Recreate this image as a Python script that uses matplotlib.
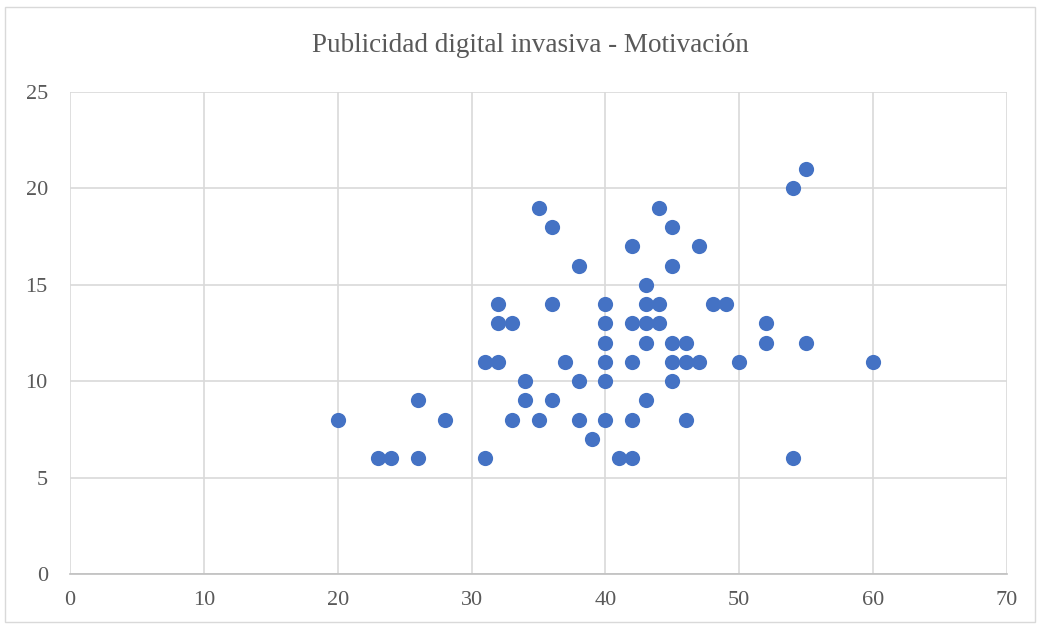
import matplotlib
matplotlib.use("Agg")
import matplotlib.pyplot as plt
from matplotlib.patches import Rectangle

# Publicidad digital invasiva (x) vs Motivación (y)
publicidad = [20, 23, 24, 26, 26, 28, 31, 31, 32, 32, 32, 33, 33, 34, 34,
              35, 35, 36, 36, 36, 37, 38, 38, 38, 39,
              40, 40, 40, 40, 40, 40, 41, 42, 42, 42, 42, 42,
              43, 43, 43, 43, 43, 44, 44, 44, 45, 45, 45, 45, 45,
              46, 46, 46, 47, 47, 48, 49, 50, 52, 52, 54, 54, 55, 55, 60]
motivacion = [8, 6, 6, 9, 6, 8, 11, 6, 14, 13, 11, 13, 8, 10, 9,
              19, 8, 18, 14, 9, 11, 16, 10, 8, 7,
              14, 13, 12, 11, 10, 8, 6, 17, 13, 11, 8, 6,
              15, 14, 13, 12, 9, 19, 14, 13, 18, 16, 12, 11, 10,
              12, 11, 8, 17, 11, 14, 14, 11, 13, 12, 20, 6, 21, 12, 11]

xticks = [0, 10, 20, 30, 40, 50, 60, 70]
yticks = [0, 5, 10, 15, 20, 25]

plt.rcParams['font.family'] = ['Liberation Serif', 'DejaVu Serif']

fig = plt.figure(figsize=(10.41, 6.27), dpi=100)
ax = fig.add_axes([70/1041, 1 - 574/627, 937/1041, 482/627])

# marco exterior del gráfico
fig.patches.append(Rectangle((5/1041, 5/627), 1030/1041, 615/627, transform=fig.transFigure,
                             fill=False, edgecolor='#D9D9D9', linewidth=1))

ax.scatter(publicidad, motivacion, s=120, color='#4472C4', zorder=3, linewidths=0)

ax.set_xlim(0, 70)
ax.set_ylim(0, 25)
ax.set_xticks(xticks)
ax.set_yticks(yticks)
ax.grid(True, color='#D9D9D9', linewidth=1.2)
ax.set_axisbelow(True)
for s in ['top', 'right', 'left']:
    ax.spines[s].set_visible(False)
ax.spines['bottom'].set_color('#BFBFBF')
ax.spines['bottom'].set_linewidth(1.2)
ax.tick_params(length=0, labelsize=16, labelcolor='#595959')
ax.tick_params(axis='x', pad=12)
ax.tick_params(axis='y', pad=16)

fig.text(530/1041, 1 - 45/627, 'Publicidad digital invasiva - Motivación', ha='center', va='center',
         fontsize=19.5, color='#595959')

fig.savefig('out.png', dpi=100)
